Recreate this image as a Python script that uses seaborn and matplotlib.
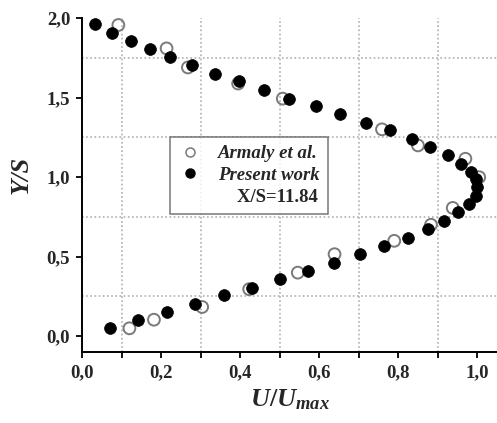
import matplotlib
matplotlib.use("Agg")
import matplotlib.pyplot as plt
from matplotlib.ticker import FuncFormatter, MultipleLocator
from matplotlib.lines import Line2D
import seaborn as sns

# Velocity profile at X/S = 11.84 (normalised streamwise velocity vs. height)
present_u = [0.033, 0.077, 0.123, 0.171, 0.222, 0.278, 0.336, 0.397, 0.460, 0.524,
             0.591, 0.654, 0.719, 0.779, 0.834, 0.881, 0.925, 0.959, 0.984, 0.997,
             1.000, 0.997, 0.978, 0.952, 0.917, 0.875, 0.824, 0.765, 0.704, 0.638,
             0.572, 0.502, 0.430, 0.359, 0.285, 0.214, 0.142, 0.072]
present_y = [1.962, 1.907, 1.857, 1.804, 1.752, 1.702, 1.651, 1.601, 1.546, 1.493,
             1.445, 1.394, 1.342, 1.293, 1.241, 1.188, 1.136, 1.083, 1.030, 0.989,
             0.936, 0.883, 0.831, 0.778, 0.726, 0.673, 0.616, 0.568, 0.515, 0.462,
             0.410, 0.358, 0.305, 0.257, 0.204, 0.151, 0.099, 0.049]

armaly_u = [0.092, 0.214, 0.268, 0.395, 0.508, 0.759, 0.850, 0.970, 1.005, 0.938,
            0.883, 0.790, 0.639, 0.546, 0.423, 0.304, 0.182, 0.120]
armaly_y = [1.956, 1.809, 1.689, 1.588, 1.493, 1.300, 1.199, 1.115, 0.999, 0.806,
            0.700, 0.599, 0.515, 0.399, 0.295, 0.183, 0.103, 0.049]

x_ticks = [0.0, 0.2, 0.4, 0.6, 0.8, 1.0]
y_ticks = [0.0, 0.5, 1.0, 1.5, 2.0]
x_grid = [0.1, 0.3, 0.5, 0.7, 0.9]
y_grid = [0.25, 0.75, 1.25, 1.75]

sns.set_style("white")
plt.rcParams["font.family"] = ["Liberation Serif", "DejaVu Serif"]
plt.rcParams["mathtext.fontset"] = "custom"
plt.rcParams["mathtext.it"] = "Liberation Serif:italic:bold"
plt.rcParams["mathtext.rm"] = "Liberation Serif:bold"
plt.rcParams["mathtext.bf"] = "Liberation Serif:bold"

fig = plt.figure(figsize=(4.97, 4.23), dpi=100)
ax = fig.add_axes([82 / 497, 71 / 423, 415 / 497, 334 / 423])

# grid: dotted lines between the major ticks
for gx in x_grid:
    ax.axvline(gx, color="#b0b0b0", lw=1.2, ls=(0, (1, 1.5)), zorder=0)
for gy in y_grid:
    ax.axhline(gy, color="#b0b0b0", lw=1.2, ls=(0, (1, 1.5)), zorder=0)

sns.scatterplot(x=armaly_u, y=armaly_y, ax=ax, marker="o", s=72,
                facecolors="none", edgecolor="#7a7a7a", linewidth=1.4,
                color="#7a7a7a", zorder=2)
sns.scatterplot(x=present_u, y=present_y, ax=ax, marker="o", s=72,
                color="black", edgecolor="black", linewidth=0.5, zorder=3)

ax.set_xlim(0, 1.05)
ax.set_ylim(-0.1, 2.0)
ax.set_xticks(x_ticks)
ax.set_yticks(y_ticks)
ax.xaxis.set_minor_locator(MultipleLocator(0.1))
comma = FuncFormatter(lambda v, _: f"{v:.1f}".replace(".", ","))
ax.xaxis.set_major_formatter(comma)
ax.yaxis.set_major_formatter(comma)
ax.tick_params(axis="both", which="both", direction="out", length=4.5,
               width=1.3, color="black", labelsize=13.5, pad=4,
               bottom=True, left=True)
for lab in ax.get_xticklabels() + ax.get_yticklabels():
    lab.set_fontweight("bold")

for side in ("top", "right"):
    ax.spines[side].set_visible(False)
for side in ("left", "bottom"):
    ax.spines[side].set_color("black")
    ax.spines[side].set_linewidth(1.4)

ax.set_ylabel("Y/S", fontsize=19, fontweight="bold", fontstyle="italic")
ax.yaxis.set_label_coords(-0.12, 0.53)
ax.set_xlabel(r"$U/U_{max}$", fontsize=19, labelpad=5)

handles = [
    Line2D([], [], ls="none", marker="o", markersize=6.5, markerfacecolor="none",
           markeredgecolor="#7a7a7a", markeredgewidth=1.1),
    Line2D([], [], ls="none", marker="o", markersize=6.5, markerfacecolor="black",
           markeredgecolor="black"),
    Line2D([], [], ls="none", marker=None),
]
labels = ["Armaly et al.", "Present work", "    X/S=11.84"]
leg = ax.legend(handles, labels, loc="upper left", bbox_to_anchor=(0.212, 0.645),
                frameon=True, fancybox=False, edgecolor="#555555",
                prop={"family": "Liberation Serif", "weight": "bold",
                      "style": "italic", "size": 13.5},
                handletextpad=0.9, handlelength=1.2, borderpad=0.45,
                labelspacing=0.25, borderaxespad=0)
leg.get_frame().set_linewidth(1.1)
leg.get_texts()[2].set_fontstyle("normal")

fig.savefig("out.png", dpi=100, facecolor="white")
